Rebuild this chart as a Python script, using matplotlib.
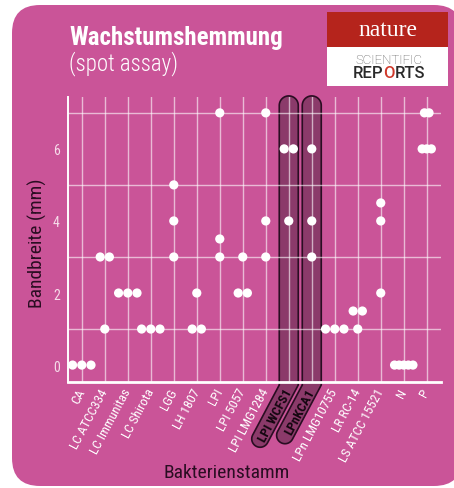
import numpy as np
import matplotlib
matplotlib.use("Agg")
import matplotlib.pyplot as plt
from matplotlib.patches import FancyBboxPatch, Polygon, Rectangle
from matplotlib.transforms import IdentityTransform

plt.rcParams['font.family'] = ['Roboto Condensed', 'DejaVu Sans']

strains = ["CA", "LC ATCC334", "LC Immunitas", "LC Shirota", "LGG", "LH 1807",
           "LPI", "LPI 5057", "LPI LMG1284", "LPI WCFS1", "LPnKCA1",
           "LPn LMG10755", "LR RC-14", "LS ATCC 15521", "N", "P"]
band_mm = [
    [0, 0, 0],
    [3, 3, 1],
    [2, 2, 2],
    [1, 1, 1],
    [5, 4, 3],
    [2, 1, 1],
    [7, 3.5, 3],
    [3, 2, 2],
    [7, 4, 3],
    [6, 6, 4],
    [6, 4, 3],
    [1, 1, 1],
    [1.5, 1.5, 1],
    [4.5, 4, 2],
    [0, 0, 0, 0, 0],
    [7, 7, 6, 6, 6],
]
highlight = ["LPI WCFS1", "LPnKCA1"]
yticks = [0, 2, 4, 6]
ygrid = [0, 1, 2, 3, 4, 5, 6, 7]

PINK = "#ca5498"
DARK = "#2a0d22"
W, H = 454, 489

fig = plt.figure(figsize=(W / 100, H / 100), dpi=100, facecolor="white")

# rounded pink card
card = FancyBboxPatch((12, 2), 450, 481, boxstyle="round,pad=0,rounding_size=28",
                      transform=IdentityTransform(), fc=PINK, ec="none", zorder=-2)
fig.patches.append(card)

ax = fig.add_axes([68 / W, 106 / H, 373 / W, 285 / H])
ax.set_facecolor("none")
ax.set_xlim(-0.6, 15.62)
ax.set_ylim(-0.47, 7.44)

# dots, duplicates spread sideways
xs, ys = [], []
for i, vals in enumerate(band_mm):
    step = 0.4 if len(vals) <= 3 else 0.2
    for v in dict.fromkeys(vals):
        n = vals.count(v)
        for k in range(n):
            xs.append(i + (k - (n - 1) / 2) * step)
            ys.append(v)
ax.scatter(xs, ys, s=44, color="white", edgecolors="none", zorder=5, clip_on=False)

ax.set_xticks(range(len(strains)))
ax.set_xticklabels(strains, rotation=62, ha="right", va="center",
                   rotation_mode="anchor", fontsize=9.5, color="white")
ax.set_yticks(yticks)
ax.set_yticklabels([str(t) for t in yticks], fontsize=10, color="#f6dcea")
ax.set_yticks(ygrid, minor=True)
ax.tick_params(axis="both", which="both", length=0)
ax.tick_params(axis="x", pad=5)
ax.tick_params(axis="y", pad=6)
for lab in ax.get_xticklabels():
    if lab.get_text() in highlight:
        lab.set_color("#140610")
        lab.set_fontweight("bold")

ax.grid(True, which="major", axis="x", color="white", alpha=0.6, lw=1.0)
ax.grid(True, which="minor", axis="y", color="white", alpha=0.6, lw=1.0)
ax.grid(False, which="major", axis="y")
for s in ["top", "right"]:
    ax.spines[s].set_visible(False)
ax.spines["left"].set_color("white")
ax.spines["left"].set_linewidth(1.4)
ax.spines["bottom"].set_color("white")
ax.spines["bottom"].set_linewidth(2.0)

# highlight capsules around two strains
ang = np.deg2rad(62)
d = np.array([-np.cos(ang), -np.sin(ang)])
nrm = np.array([np.sin(ang), -np.cos(ang)])
hw = 9.5
lengths = [61, 57]
for name, L in zip(highlight, lengths):
    i = strains.index(name)
    cx, ytop = ax.transData.transform((i, 7.47))
    _, ybot = ax.transData.transform((i, -0.47))
    yt = ybot - 3
    r = hw * np.sin(ang)
    c0 = np.array([cx, yt])
    c1 = c0 + L * d
    pts = []
    th = np.linspace(np.pi, 0, 30)
    pts += [(cx + hw * np.cos(t), ytop - hw + hw * np.sin(t)) for t in th]
    pts.append((cx + hw, yt))
    er = c1 + r * nrm
    pts.append(tuple(er))
    tn = np.arctan2(nrm[1], nrm[0])
    th2 = np.linspace(tn, tn - np.pi, 30)
    pts += [tuple(c1 + r * np.array([np.cos(t), np.sin(t)])) for t in th2]
    pts.append((cx - hw, yt))
    poly = Polygon(pts, closed=True, transform=IdentityTransform(),
                   fc="#8b3a6a", ec=DARK, lw=1.2, zorder=-1)
    fig.patches.append(poly)

# titles and axis labels
fig.text(69 / W, 1 - 45 / H, "Wachstumshemmung", color="white", fontsize=18,
         fontweight="bold", va="baseline", ha="left")
fig.text(69 / W, 1 - 70 / H, "(spot assay)", color="white", fontsize=16.5,
         fontweight="light", va="baseline", ha="left")
fig.text(37 / W, 1 - 243 / H, "Bandbreite (mm)", color=DARK, fontsize=14,
         rotation=90, ha="center", va="center")
fig.text(227 / W, 1 - 473 / H, "Bakterienstamm", color=DARK, fontsize=14,
         ha="center", va="center")

# journal logo
fig.patches.append(Rectangle((327 / W, 1 - 87 / H), 121 / W, 74 / H,
                             transform=fig.transFigure, fc="white", ec="none"))
fig.patches.append(Rectangle((327 / W, 1 - 48 / H), 121 / W, 35 / H,
                             transform=fig.transFigure, fc="#b5241c", ec="none"))
fig.text(388 / W, 1 - 31 / H, "nature", color="white", fontsize=17,
         family="Liberation Serif", ha="center", va="center")
fig.text(389 / W, 1 - 60 / H, "SCIENTIFIC", color="#5a5a5a", fontsize=9.5,
         family="Roboto", fontweight="light", ha="center", va="center")
t1 = fig.text(353 / W, 1 - 74 / H, "REP", color="#2a2a2a", fontsize=12,
              family="Roboto", fontweight="medium", ha="left", va="center")
t2 = fig.text(0, 0, "O", color="#d0392b", fontsize=12, family="Roboto",
              fontweight="medium", ha="left", va="bottom")
t3 = fig.text(0, 0, "RTS", color="#2a2a2a", fontsize=12, family="Roboto",
              fontweight="medium", ha="left", va="bottom")
fig.canvas.draw()
inv = fig.transFigure.inverted()
bb = t1.get_window_extent()
x0, y0 = inv.transform((bb.x1, bb.y0))
t2.set_position((x0, y0))
bb = t2.get_window_extent()
x0, y0 = inv.transform((bb.x1, bb.y0))
t3.set_position((x0, y0))

fig.savefig("out.png", dpi=100, facecolor="white")
